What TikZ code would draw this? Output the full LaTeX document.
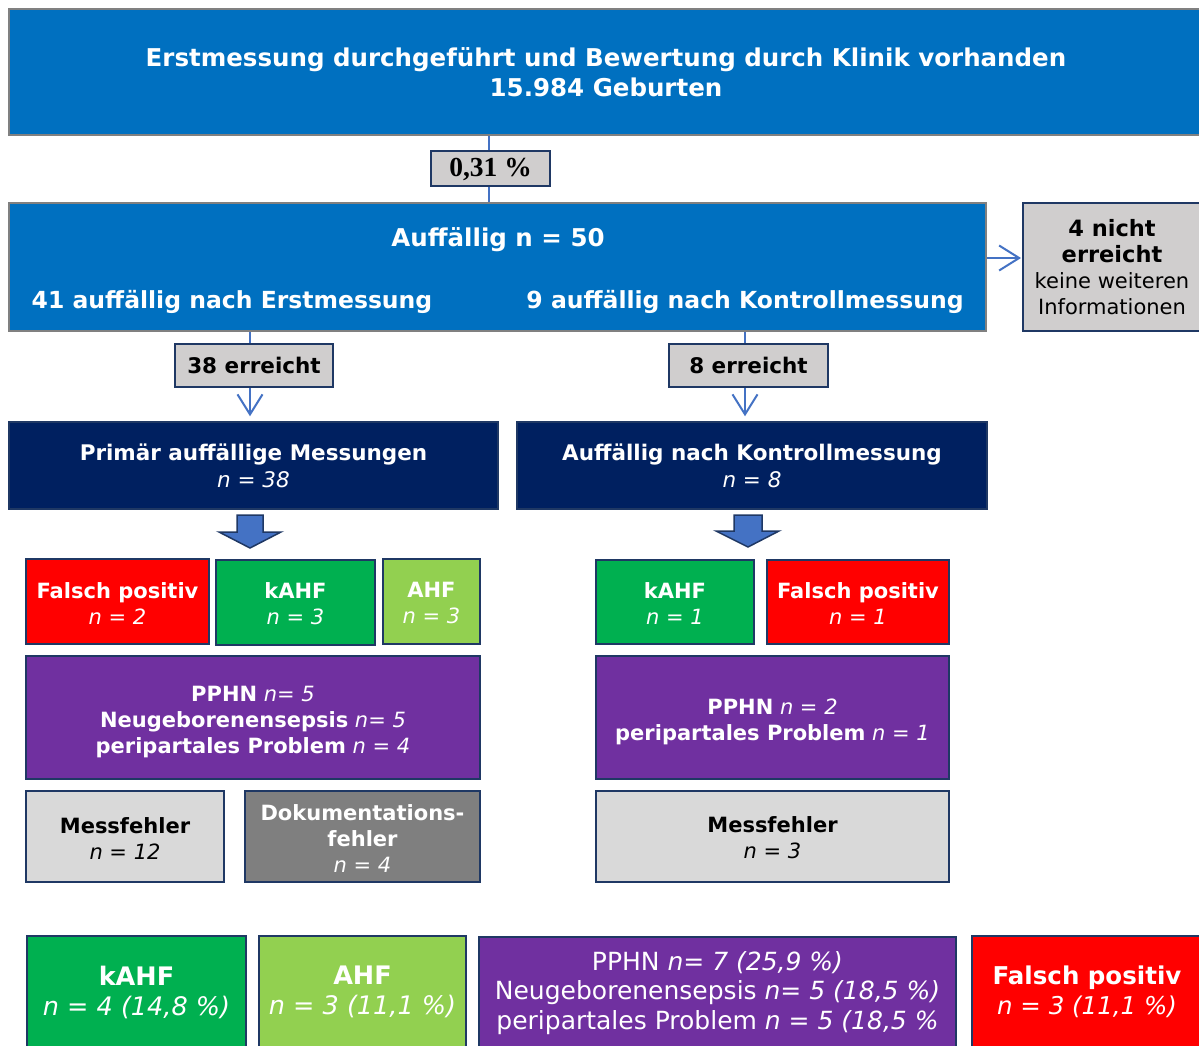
\documentclass[tikz,border=0pt]{standalone}
\usepackage{fontspec}
\setmainfont{DejaVu Sans}
\newfontfamily\serifb{Liberation Serif}
\usetikzlibrary{arrows.meta}
\definecolor{cblue}{HTML}{0070C0}
\definecolor{cnavy}{HTML}{002060}
\definecolor{cgrayb}{HTML}{808080}
\definecolor{clbl}{HTML}{D0CECE}
\definecolor{cline}{HTML}{1F3864}
\definecolor{cconn}{HTML}{4472C4}
\definecolor{cred}{HTML}{FF0000}
\definecolor{cgreen}{HTML}{00B050}
\definecolor{clgreen}{HTML}{92D050}
\definecolor{cpurple}{HTML}{7030A0}
\definecolor{clgray}{HTML}{D9D9D9}
\definecolor{cmgray}{HTML}{7F7F7F}
\newcommand\fs[2]{\fontsize{#1}{#2}\selectfont}
\newcommand\upstrut[1]{\rule{0pt}{#1pt}}
\begin{document}
\begin{tikzpicture}[x=1pt,y=-1pt,
  bigblue/.style={draw=cgrayb, fill=cblue, line width=2.5pt, inner sep=0pt, align=center, text=white},
  wtxt/.style={inner sep=0pt, text=white, font=\bfseries\fs{23.5}{28}, anchor=base},
  lbl/.style={draw=cline, fill=clbl, line width=2pt, inner sep=0pt, align=center, font=\bfseries\fs{21.5}{26}},
  navybox/.style={draw=cline, fill=cnavy, line width=1.5pt, inner sep=0pt, align=center, text=white, font=\fs{21.5}{27}},
  cbox/.style={draw=cline, line width=2.5pt, inner sep=0pt, align=center, text=white, font=\fs{21}{26}},
  conn/.style={draw=cconn, line width=2pt},
  arr/.style={-{Straight Barb[length=20pt,width=25pt,line width=2pt]}},
  barrow/.style={fill=cconn, draw=cline, line width=1.5pt, line join=miter}
]
\useasboundingbox (0,0) rectangle (1199,1045);
\fill[white] (0,0) rectangle (1199,1045);

% top
\node[bigblue, minimum width=1194, minimum height=126, font=\bfseries\fs{24.5}{30}] (top) at (606,72)
  {Erstmessung durchgeführt und Bewertung durch Klinik vorhanden\\15.984 Geburten};

% Auffaellig box
\node[bigblue, minimum width=977, minimum height=128] (auff) at (497.5,267) {};
\node[wtxt, font=\bfseries\fs{24.5}{28}] (auffT) at (498,246) {Auffällig n = 50};
\node[wtxt] (auffL) at (232,308) {41 auffällig nach Erstmessung};
\node[wtxt] (auffR) at (745,308) {9 auffällig nach Kontrollmessung};

% not reached
\node[lbl, minimum width=178, minimum height=128, font=\fs{21}{26}] (nr) at (1112,267)
  {\bfseries\fs{22.5}{26}4 nicht\\\bfseries\fs{22.5}{26}erreicht\\\mdseries\fs{21}{26}keine weiteren\\\mdseries\fs{21}{26}Informationen};

% labels
\node[lbl, minimum width=119, minimum height=35, font=\serifb\bfseries\fs{27.5}{27}] (p031) at (490.5,168.5) {\upstrut{21}0,31 \%};
\node[lbl, minimum width=158, minimum height=43] (e38) at (254,365.5) {38 erreicht};
\node[lbl, minimum width=159, minimum height=43] (e8) at (748.5,365.5) {8 erreicht};

% navy
\node[navybox, minimum width=489, minimum height=87] (n1) at (253.5,465.5)
  {\textbf{Primär auffällige Messungen}\\\textit{n = 38}};
\node[navybox, minimum width=470, minimum height=87] (n2) at (752,465.5)
  {\textbf{Auffällig nach Kontrollmessung}\\\textit{n = 8}};

% connectors
\draw[conn] ([xshift=-1.5pt]p031.north) -- ([xshift=-1.5pt]p031.north |- top.south);
\draw[conn] ([xshift=-1.5pt]p031.south) -- ([xshift=-1.5pt]p031.south |- auff.north);
\draw[conn] ([xshift=-4pt]auff.south -| e38.north) -- ([xshift=-4pt]e38.north);
\draw[conn] ([xshift=-3.5pt]auff.south -| e8.north) -- ([xshift=-3.5pt]e8.north);
\draw[conn, arr, shorten >=5pt] ([xshift=-4pt]e38.south) -- ([xshift=-4pt]e38.south |- n1.north);
\draw[conn, arr, shorten >=5pt] ([xshift=-3.5pt]e8.south) -- ([xshift=-3.5pt]e8.south |- n2.north);
\draw[conn, arr, shorten >=1pt] ([yshift=9pt]auff.east) -- ([yshift=9pt]nr.west);

% block arrows
\filldraw[barrow] (237,515) -- (263,515) -- (263,532) -- (281,532) -- (250,548) -- (219,532) -- (237,532) -- cycle;
\filldraw[barrow] (734,515) -- (762,515) -- (762,531) -- (779,531) -- (748,547) -- (716,531) -- (734,531) -- cycle;

% left group
\node[cbox, fill=cred, minimum width=183, minimum height=85] (fp1) at (117.5,601.5)
  {\upstrut{19}\textbf{Falsch positiv}\\\textit{n = 2}};
\node[cbox, fill=cgreen, minimum width=159, minimum height=85] (k1) at (295.5,602.5)
  {\upstrut{19}\textbf{kAHF}\\\textit{n = 3}};
\node[cbox, fill=clgreen, minimum width=97, minimum height=85] (a1) at (431.5,601.5)
  {\upstrut{19}\textbf{AHF}\\\textit{n = 3}};
\node[cbox, fill=cpurple, minimum width=454, minimum height=123] (pp1) at (253,717.5)
  {\upstrut{25}\textbf{PPHN} \textit{n= 5}\\\textbf{Neugeborenensepsis} \textit{n= 5}\\\textbf{peripartales Problem} \textit{n = 4}};
\node[cbox, fill=clgray, text=black, minimum width=198, minimum height=91] (mf1) at (125,836.5)
  {\upstrut{19}\textbf{Messfehler}\\\textit{n = 12}};
\node[cbox, fill=cmgray, minimum width=235, minimum height=91] (df1) at (362.5,836.5)
  {\upstrut{19}\textbf{Dokumentations-}\\\textbf{fehler}\\\textit{n = 4}};

% right group
\node[cbox, fill=cgreen, minimum width=158, minimum height=84] (k2) at (675,602)
  {\upstrut{19}\textbf{kAHF}\\\textit{n = 1}};
\node[cbox, fill=cred, minimum width=182, minimum height=84] (fp2) at (858,602)
  {\upstrut{19}\textbf{Falsch positiv}\\\textit{n = 1}};
\node[cbox, fill=cpurple, minimum width=353, minimum height=123] (pp2) at (772.5,717.5)
  {\upstrut{24}\textbf{PPHN} \textit{n = 2}\\\textbf{peripartales Problem} \textit{n = 1}};
\node[cbox, fill=clgray, text=black, minimum width=353, minimum height=91] (mf2) at (772.5,836.5)
  {\upstrut{19}\textbf{Messfehler}\\\textit{n = 3}};

% bottom row
\node[cbox, fill=cgreen, minimum width=219, minimum height=112, font=\fs{25.5}{30}] (bk) at (136.5,992)
  {\textbf{kAHF}\\\textit{n = 4 (14,8 \%)}};
\node[cbox, fill=clgreen, minimum width=207, minimum height=112, font=\fs{25.5}{30}] (ba) at (362.5,992)
  {\textbf{AHF}\\\textit{n = 3 (11,1 \%)}};
\node[cbox, fill=cpurple, minimum width=477, minimum height=112, font=\fs{25}{29.5}] (bp) at (717.5,993)
  {PPHN \textit{n= 7 (25,9 \%)}\\Neugeborenensepsis \textit{n= 5 (18,5 \%)}\\peripartales Problem \textit{n = 5 (18,5 \%}};
\node[cbox, fill=cred, minimum width=230, minimum height=112, font=\fs{24.5}{30}] (bf) at (1087,992)
  {\textbf{Falsch positiv}\\\textit{n = 3 (11,1 \%)}};
\end{tikzpicture}
\end{document}
